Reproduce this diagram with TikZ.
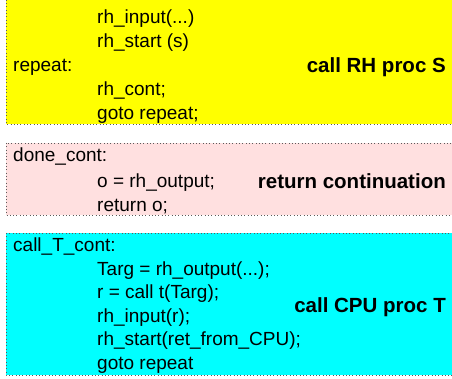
\documentclass[tikz,border=0pt]{standalone}
\usepackage{fontspec}
\setmainfont{Liberation Sans}
\definecolor{rhyellow}{RGB}{255,255,0}
\definecolor{rhpink}{RGB}{255,224,224}
\definecolor{rhcyan}{RGB}{0,255,255}
\definecolor{dotgray}{RGB}{90,90,90}

\begin{document}
\begin{tikzpicture}[x=1pt, y=-1pt,
        codebox/.style={draw=dotgray, line width=0.7pt, dash pattern=on 0.8pt off 2.5pt},
        code/.style={anchor=base west, inner sep=0pt, font=\fontsize{19}{23}\selectfont},
        procname/.style={anchor=base east, inner sep=0pt, font=\fontsize{20.5}{24}\selectfont\bfseries}]
    \useasboundingbox (0,0) rectangle (452,379);
    \begin{scope}
        \clip (0,0) rectangle (452,379);
        % the three blocks, cut off at the top and right
        \fill[rhyellow] (6,-10) rectangle (470,124);
        \draw[codebox] (6,-10) rectangle (470,124);
        \fill[rhpink] (6,143) rectangle (470,215);
        \draw[codebox] (6,143) rectangle (470,215);
        \fill[rhcyan] (6,233) rectangle (470,375);
        \draw[codebox] (6,233) rectangle (470,375);
    \end{scope}

    % call RH proc S
    \node[code] (rhin) at (97,23.5) {rh\_input(...)};
    \node[code] (rhstart) at (97,47.5) {rh\_start (s)};
    \node[code] (repeat) at (13,71.5) {repeat:};
    \node[code] (rhcont) at (97,95.5) {rh\_cont;};
    \node[code] (gotorep) at (97,119.5) {goto repeat;};
    \node[procname] (callS) at (446,72.3) {call RH proc S};

    % return continuation
    \node[code] (done) at (13,161.5) {done\_cont:};
    \node[code] (out) at (97,187.5) {o = rh\_output;};
    \node[code] (ret) at (97,211.5) {return o;};
    \node[procname] (retcont) at (446,188.3) {return continuation};

    % call CPU proc T
    \node[code] (callT) at (13,251.5) {call\_T\_cont:};
    \node[code] (targ) at (97,275.1) {Targ = rh\_output(...);};
    \node[code] (callt) at (97,298.7) {r = call t(Targ);};
    \node[code] (rhinr) at (97,322.3) {rh\_input(r);};
    \node[code] (rhret) at (97,345.9) {rh\_start(ret\_from\_CPU);};
    \node[code] (gotoT) at (97,369.5) {goto repeat};
    \node[procname] (cpuT) at (446,312.3) {call CPU proc T};
\end{tikzpicture}
\end{document}
